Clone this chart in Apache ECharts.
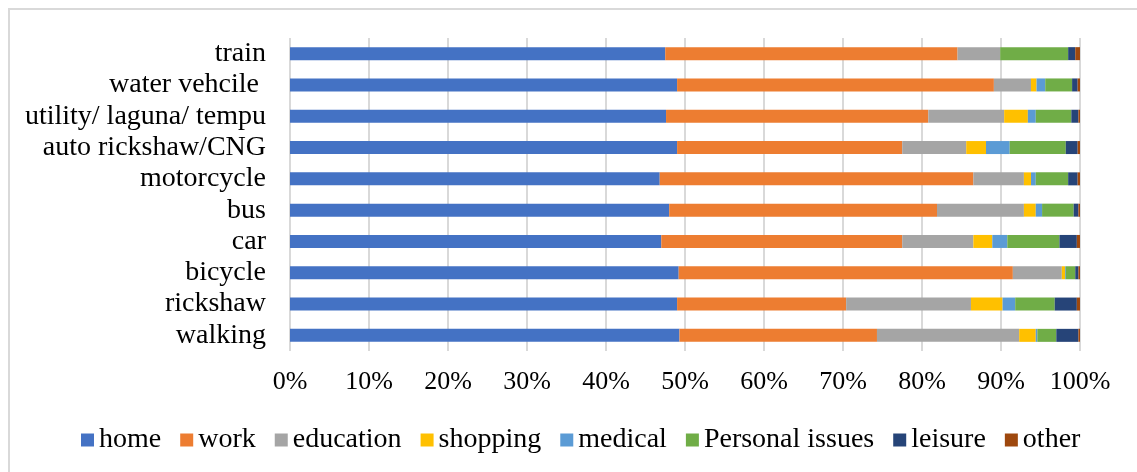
<!DOCTYPE html>
<html>
<head>
<meta charset="utf-8">
<script src="https://cdn.jsdelivr.net/npm/echarts@6/dist/echarts.min.js"></script>
<style>
  html, body { margin: 0; padding: 0; background: #fff; }
  .wrap { position: relative; width: 1137px; height: 472px; overflow: hidden; }
  .frame {
    position: absolute; left: 8px; top: 8px; width: 1140px; height: 470px;
    border: 2px solid #d9d9d9; box-sizing: border-box;
  }
  #chart { position: absolute; left: 0; top: 0; width: 1137px; height: 472px; }
</style>
</head>
<body>
<div class="wrap">
  <div class="frame"></div>
  <div id="chart"></div>
</div>
<script>
// categories top to bottom
const modes = ['train', 'water vehcile ', 'utility/ laguna/ tempu', 'auto rickshaw/CNG',
  'motorcycle', 'bus', 'car', 'bicycle', 'rickshaw', 'walking']

// share of trips (%) per purpose, same order as modes
const home = [47.5, 49.0, 47.6, 49.0, 46.8, 48.0, 47.0, 49.2, 49.0, 49.3]
const work = [37.0, 40.1, 33.2, 28.5, 39.7, 33.9, 30.5, 42.3, 21.4, 25.0]
const education = [5.4, 4.7, 9.6, 8.1, 6.4, 11.0, 9.0, 6.2, 15.8, 18.0]
const shopping = [0, 0.7, 3.0, 2.5, 0.9, 1.5, 2.4, 0.4, 4.0, 2.1]
const medical = [0, 1.1, 1.0, 3.0, 0.6, 0.8, 1.9, 0.1, 1.6, 0.2]
const personal = [8.6, 3.4, 4.5, 7.1, 4.1, 4.0, 6.6, 1.2, 5.0, 2.4]
const leisure = [0.9, 0.7, 0.9, 1.5, 1.2, 0.6, 2.2, 0.4, 2.8, 2.8]
const other = [0.6, 0.3, 0.2, 0.3, 0.3, 0.2, 0.4, 0.2, 0.4, 0.2]

const xTicks = [0, 10, 20, 30, 40, 50, 60, 70, 80, 90, 100]

const colors = {
  home: '#4472C4',
  work: '#ED7D31',
  education: '#A5A5A5',
  shopping: '#FFC000',
  medical: '#5B9BD5',
  personal: '#70AD47',
  leisure: '#264478',
  other: '#9E480E'
}

const font = 'Liberation Serif'

const seriesList = [
  ['home', home, colors.home],
  ['work', work, colors.work],
  ['education', education, colors.education],
  ['shopping', shopping, colors.shopping],
  ['medical', medical, colors.medical],
  ['Personal issues', personal, colors.personal],
  ['leisure', leisure, colors.leisure],
  ['other', other, colors.other]
].map(([name, data, color]) => ({
  name,
  type: 'bar',
  stack: 'total',
  barWidth: 13,
  data,
  itemStyle: { color },
  emphasis: { disabled: true }
}))

const myChart = echarts.init(document.getElementById('chart'), null, { renderer: 'canvas' })

const option = {
  animation: false,
  textStyle: { fontFamily: font, color: '#000' },
  grid: {
    left: 290,
    right: 57,
    top: 38,
    bottom: 121
  },
  legend: {
    top: 421,
    left: 76,
    padding: 5,
    itemWidth: 13,
    itemHeight: 13,
    itemGap: 19,
    icon: 'rect',
    textStyle: { fontFamily: font, fontSize: 28, color: '#000' },
    data: seriesList.map(s => s.name)
  },
  xAxis: {
    type: 'value',
    min: xTicks[0],
    max: xTicks[xTicks.length - 1],
    interval: 10,
    axisLine: { show: false },
    axisTick: { show: false },
    axisLabel: {
      formatter: '{value}%',
      fontFamily: font,
      fontSize: 26,
      color: '#000',
      margin: 18
    },
    splitLine: { show: true, lineStyle: { color: '#d9d9d9', width: 2 } }
  },
  yAxis: {
    type: 'category',
    inverse: true,
    data: modes,
    axisLine: { show: false },
    axisTick: { show: false },
    axisLabel: {
      interval: 0,
      fontFamily: font,
      fontSize: 28,
      color: '#000',
      margin: 24
    }
  },
  series: seriesList
}

myChart.setOption(option)
</script>
</body>
</html>
